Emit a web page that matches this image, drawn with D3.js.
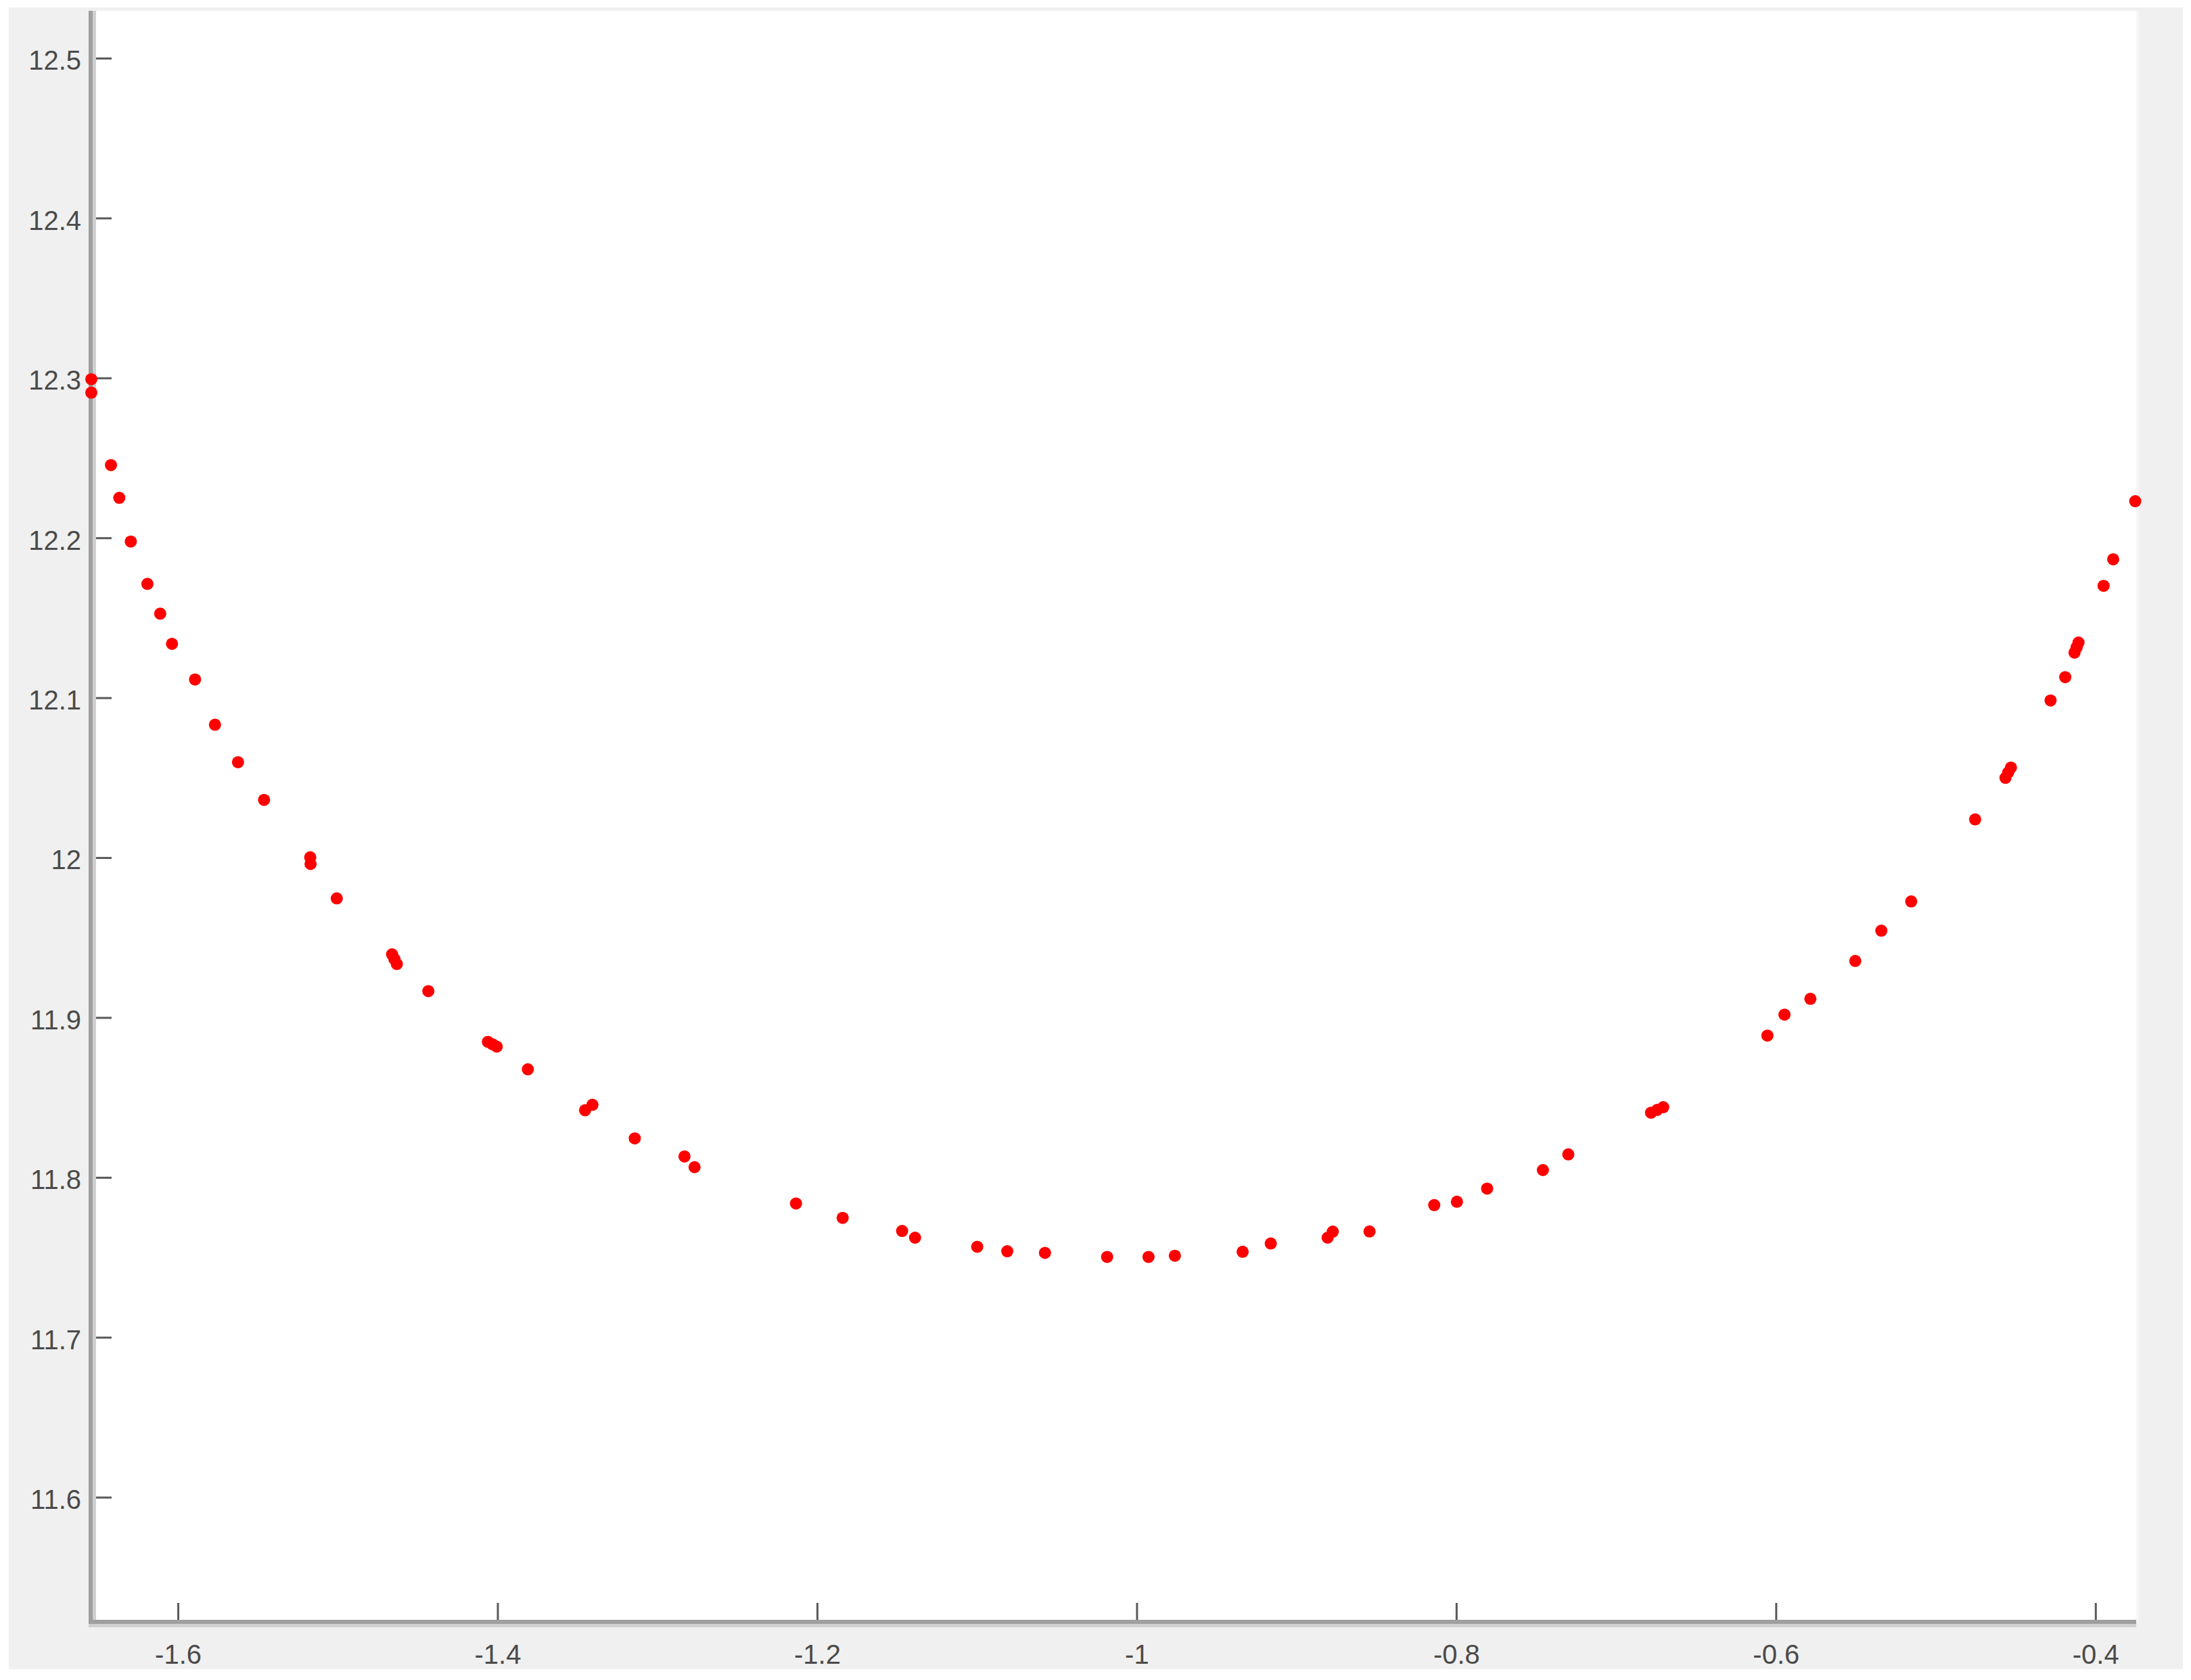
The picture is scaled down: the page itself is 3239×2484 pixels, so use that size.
<!DOCTYPE html>
<html>
<head>
<meta charset="utf-8">
<script src="https://cdn.jsdelivr.net/npm/d3@7"></script>
<style>
  html, body { margin: 0; padding: 0; background: #ffffff; }
  svg { display: block; }
</style>
</head>
<body>
<script>
// ---- data ----
const xValues = [
  -1.6542, -1.6542, -1.6419, -1.6367, -1.6295, -1.6191, -1.6111, -1.6037, -1.5893, -1.5768,
  -1.5624, -1.5461, -1.5172, -1.5170, -1.5006, -1.4660, -1.4645, -1.4630, -1.4433, -1.4060,
  -1.4032, -1.4005, -1.3810, -1.3452, -1.3406, -1.3141, -1.2830, -1.2767, -1.2132, -1.1840,
  -1.1468, -1.1387, -1.0998, -1.0810, -1.0574, -1.0185, -0.9926, -0.9761, -0.9337, -0.9161,
  -0.8805, -0.8773, -0.8543, -0.8138, -0.7996, -0.7807, -0.7458, -0.7299, -0.6781, -0.6743,
  -0.6705, -0.6053, -0.5946, -0.5784, -0.5503, -0.5340, -0.5153, -0.4753, -0.4563, -0.4546,
  -0.4529, -0.4281, -0.4189, -0.4131, -0.4118, -0.4106, -0.3949, -0.3889, -0.3751
];
const yValues = [
  12.2992, 12.2908, 12.2455, 12.2250, 12.1977, 12.1712, 12.1526, 12.1337, 12.1114, 12.0831,
  12.0597, 12.0361, 12.0002, 11.9960, 11.9745, 11.9395, 11.9365, 11.9335, 11.9165, 11.8848,
  11.8833, 11.8818, 11.8676, 11.8420, 11.8454, 11.8244, 11.8131, 11.8064, 11.7837, 11.7747,
  11.7665, 11.7623, 11.7566, 11.7538, 11.7528, 11.7503, 11.7503, 11.7510, 11.7535, 11.7587,
  11.7623, 11.7661, 11.7662, 11.7827, 11.7848, 11.7930, 11.8046, 11.8144, 11.8405, 11.8422,
  11.8439, 11.8887, 11.9018, 11.9117, 11.9354, 11.9543, 11.9726, 12.0239, 12.0499, 12.0533,
  12.0563, 12.0983, 12.1129, 12.1282, 12.1315, 12.1345, 12.1700, 12.1866, 12.2229
];
const xTicks = [-1.6, -1.4, -1.2, -1.0, -0.8, -0.6, -0.4];
const xTickLabels = ["-1.6", "-1.4", "-1.2", "-1", "-0.8", "-0.6", "-0.4"];
const yTicks = [11.6, 11.7, 11.8, 11.9, 12.0, 12.1, 12.2, 12.3, 12.4, 12.5];
const yTickLabels = ["11.6", "11.7", "11.8", "11.9", "12", "12.1", "12.2", "12.3", "12.4", "12.5"];
const xDomain = [-1.6542, -0.3745];
const yDomain = [11.5212, 12.5296];

(function () {
  // ---- layout ----
  const W = 3239, H = 2484;
  const pLeft = 135, pRight = 3158, pTop = 16, pBottom = 2400;

  const svg = d3.select("body").append("svg").attr("width", W).attr("height", H);

  // figure background
  svg.append("rect").attr("x", 0).attr("y", 0).attr("width", W).attr("height", H).attr("fill", "#ffffff");
  svg.append("rect").attr("x", 13).attr("y", 11).attr("width", 3227 - 13).attr("height", 2468 - 11).attr("fill", "#f0f0f0");
  // plot area
  svg.append("rect").attr("x", pLeft).attr("y", pTop).attr("width", pRight - pLeft).attr("height", pBottom - pTop).attr("fill", "#ffffff");
  svg.append("rect").attr("x", pRight).attr("y", pTop).attr("width", 4).attr("height", pBottom - pTop).attr("fill", "#f6f6f6");

  const x = d3.scaleLinear().domain(xDomain).range([pLeft, pRight]);
  const y = d3.scaleLinear().domain(yDomain).range([pBottom, pTop]);

  const fontFamily = "'Liberation Sans', Arial, Helvetica, sans-serif";

  // Y axis
  const yAxis = d3.axisRight(y)
    .tickValues(yTicks)
    .tickFormat((d, i) => yTickLabels[i])
    .tickSize(30)
    .tickPadding(0);
  const gy = svg.append("g").attr("transform", `translate(${pLeft},0)`).call(yAxis);
  gy.select(".domain").remove();
  gy.selectAll(".tick line").attr("stroke", "#5a5a5a").attr("stroke-width", 3);
  gy.selectAll(".tick text")
    .attr("x", -15)
    .attr("dy", "0.42em")
    .attr("text-anchor", "end")
    .attr("fill", "#4a4a4a")
    .style("font-family", fontFamily)
    .style("font-size", "40px");

  // X axis
  const xAxis = d3.axisTop(x)
    .tickValues(xTicks)
    .tickFormat((d, i) => xTickLabels[i])
    .tickSize(30)
    .tickPadding(0);
  const gx = svg.append("g").attr("transform", `translate(0,${pBottom})`).call(xAxis);
  gx.select(".domain").remove();
  gx.selectAll(".tick line").attr("stroke", "#5a5a5a").attr("stroke-width", 3);
  gx.selectAll(".tick text")
    .attr("y", 60)
    .attr("dy", 0)
    .attr("text-anchor", "middle")
    .attr("fill", "#4a4a4a")
    .style("font-family", fontFamily)
    .style("font-size", "40px");

  // axis lines (thick gray with a light edge)
  svg.append("rect").attr("x", pLeft + 2).attr("y", pTop).attr("width", 5).attr("height", pBottom - pTop + 5).attr("fill", "#cfcfcf");
  svg.append("line").attr("x1", pLeft - 1).attr("x2", pLeft - 1).attr("y1", pTop).attr("y2", pBottom + 3)
    .attr("stroke", "#9f9f9f").attr("stroke-width", 6);
  svg.append("rect").attr("x", pLeft - 4).attr("y", pBottom + 1).attr("width", pRight - pLeft + 4).attr("height", 5).attr("fill", "#cfcfcf");
  svg.append("line").attr("x1", pLeft - 4).attr("x2", pRight).attr("y1", pBottom - 2).attr("y2", pBottom - 2)
    .attr("stroke", "#9f9f9f").attr("stroke-width", 6);

  // points
  const pts = xValues.map((v, i) => ({ x: v, y: yValues[i] }));
  svg.append("g").selectAll("circle").data(pts).join("circle")
    .attr("cx", d => x(d.x))
    .attr("cy", d => y(d.y))
    .attr("r", 9)
    .attr("fill", "#ff0000");
})();
</script>
</body>
</html>
